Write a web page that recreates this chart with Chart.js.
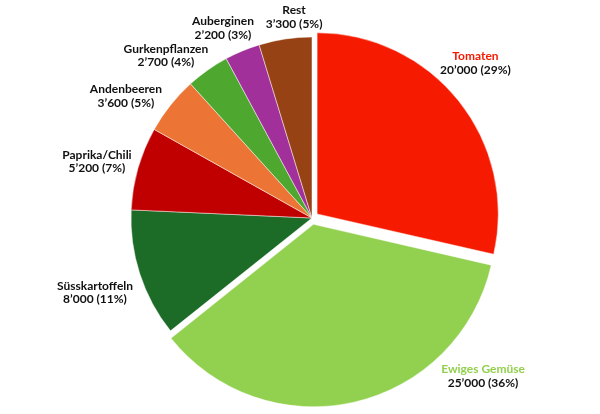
<!DOCTYPE html>
<html>
<head>
<meta charset="utf-8">
<script src="https://cdn.jsdelivr.net/npm/chart.js@4"></script>
<style>
  html, body { margin: 0; padding: 0; background: #fff; }
  #wrap { width: 600px; height: 414px; }
</style>
</head>
<body>
<div id="wrap"><canvas id="pie"></canvas></div>
<script>
const categories = ["Tomaten", "Ewiges Gemüse", "Süsskartoffeln", "Paprika/Chili", "Andenbeeren", "Gurkenpflanzen", "Auberginen", "Rest"];
const values = [20000, 25000, 8000, 5200, 3600, 2700, 2200, 3300];
const colors = ["#f51a00", "#92d050", "#1c6b27", "#c00000", "#ec7535", "#4ea72e", "#a2309a", "#974214"];
const exploded = [true, true, false, false, false, false, false, false];

// label anchors relative to pie centre, in units of the radius
const labelPos = [
  [0.903, -0.856], [0.945, 0.873], [-1.199, 0.413], [-1.188, -0.311],
  [-1.028, -0.674], [-0.807, -0.897], [-0.492, -1.05], [-0.099, -1.11]
];
const nameColor = ["#f51a00", "#92d050", "#111", "#111", "#111", "#111", "#111", "#111"];

const total = values.reduce((a, b) => a + b, 0);
const fmt = (n) => String(n).replace(/\B(?=(\d{3})+(?!\d))/g, "\u2019");

const labelPlugin = {
  id: "pieLabels",
  afterDatasetsDraw(chart) {
    const ctx = chart.ctx;
    const arcs = chart.getDatasetMeta(0).data;
    ctx.save();
    ctx.font = "bold 12px Lato";
    ctx.textAlign = "center";
    ctx.textBaseline = "middle";
    arcs.forEach((arc, i) => {
      const x = arc.x + labelPos[i][0] * arc.outerRadius;
      const y = arc.y + labelPos[i][1] * arc.outerRadius;
      const pct = Math.round(values[i] / total * 100);
      ctx.fillStyle = nameColor[i];
      ctx.fillText(categories[i], x, y - 6.75);
      ctx.fillStyle = "#111";
      ctx.fillText(fmt(values[i]) + " (" + pct + "%)", x, y + 6.75);
    });
    ctx.restore();
  }
};

new Chart(document.getElementById("pie"), {
  type: "pie",
  data: {
    labels: categories,
    datasets: [{
      data: values,
      backgroundColor: colors,
      borderColor: "rgba(255,255,255,0.6)",
      borderWidth: 0.8,
      offset: exploded.map(e => e ? 26 : 0)
    }]
  },
  options: {
    responsive: true,
    maintainAspectRatio: false,
    animation: false,
    radius: 181,
    layout: { padding: { top: 28, bottom: 6, left: 122, right: 98 } },
    plugins: {
      legend: { display: false },
      tooltip: { enabled: false }
    }
  },
  plugins: [labelPlugin]
});
</script>
</body>
</html>
